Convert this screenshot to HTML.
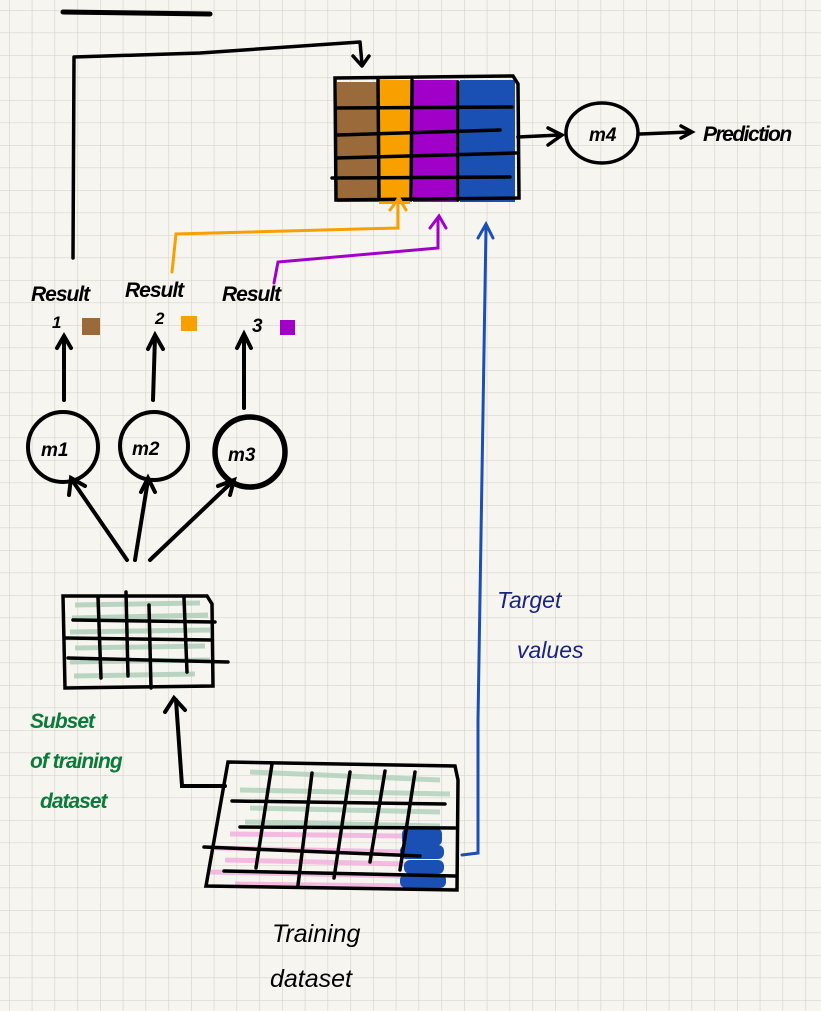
<!DOCTYPE html>
<html><head><meta charset="utf-8"><style>
html,body{margin:0;padding:0;background:#f7f5f0;}
svg{display:block}
text{font-family:"Liberation Sans",sans-serif;font-style:italic}
</style></head><body>
<svg width="821" height="1011" viewBox="0 0 821 1011" xmlns="http://www.w3.org/2000/svg">
<defs>
<pattern id="g" x="9" y="10" width="22.75" height="22.5" patternUnits="userSpaceOnUse">
<path d="M0 0H22.75M0 0V22.5" stroke="#d8d4cc" stroke-width="1.3" fill="none"/>
</pattern>
</defs>
<rect width="821" height="1011" fill="#f7f5f0"/>
<rect width="821" height="1011" fill="url(#g)"/>

<g fill="none" stroke="#000" stroke-linecap="round" stroke-linejoin="round">
<path d="M63 12 L210 14" stroke-width="5"/>
<path d="M73 258 L74 57 L200 53 L360 42 L362 64" stroke-width="3.5"/>
<path d="M353 56 L362 66 L369 56" stroke-width="3.5"/>
</g>

<!-- matrix -->
<g>
<rect x="337" y="82" width="42" height="120" fill="#9a6a3a"/>
<rect x="379" y="80" width="31" height="124" fill="#f7a000"/>
<rect x="413" y="80" width="45" height="122" fill="#a000c8"/>
<rect x="460" y="80" width="55" height="122" fill="#1a4fb4"/>
<g fill="none" stroke="#000" stroke-width="3.5" stroke-linecap="round">
<path d="M335 78 L513 76 L518 84 L519 198 L336 200 Z"/>
<path d="M336 108 L512 107"/>
<path d="M338 135 L500 130"/>
<path d="M336 158 L516 153"/>
<path d="M332 178 L510 177"/>
<path d="M378 80 L379 198"/>
<path d="M412 80 L411 200"/>
<path d="M458 82 L458 200"/>
</g>
</g>

<!-- m4 -->
<g fill="none" stroke="#000" stroke-width="3.5" stroke-linecap="round">
<path d="M518 137 L560 135"/><path d="M548 128 L562 135 L548 145"/>
<ellipse cx="602" cy="133" rx="36" ry="30"/>
<path d="M640 134 L690 132"/><path d="M681 126 L692 132 L681 138"/>
</g>
<text x="589" y="141" font-size="19" font-weight="bold">m4</text>
<text x="703" y="141" font-size="21" font-weight="bold" letter-spacing="-1.5">Prediction</text>

<g fill="none" stroke-width="3" stroke-linecap="round">
<path d="M172 272 L176 234 L398 228 L398 198" stroke="#f7a000"/>
<path d="M390 210 L399 198 L406 210" stroke="#f7a000"/>
<path d="M274 283 L278 262 L438 248 L438 218" stroke="#a000c8"/>
<path d="M430 228 L439 216 L446 228" stroke="#a000c8"/>
<path d="M462 855 L478 853 L478 720 L486 228" stroke="#1a4fb4"/>
<path d="M478 238 L486 224 L493 238" stroke="#1a4fb4"/>
</g>

<g font-size="21" font-weight="bold" fill="#000" letter-spacing="-1">
<text x="31" y="301">Result</text><text x="52" y="328" font-size="17">1</text>
<text x="125" y="297">Result</text><text x="155" y="324" font-size="17">2</text>
<text x="222" y="301">Result</text><text x="252" y="332" font-size="19">3</text>
</g>
<rect x="82" y="318" width="18" height="17" fill="#9a6a3a"/>
<rect x="181" y="316" width="16" height="15" fill="#f7a000"/>
<rect x="280" y="320" width="15" height="15" fill="#a000c8"/>

<g fill="none" stroke="#000" stroke-width="4" stroke-linecap="round">
<path d="M64 400 L64 338"/><path d="M57 348 L64 336 L71 348"/>
<path d="M153 400 L155 337"/><path d="M148 349 L155 335 L163 349"/>
<path d="M244 408 L244 336"/><path d="M237 348 L244 334 L251 348"/>
<circle cx="63" cy="447" r="35"/>
<circle cx="154" cy="446" r="34"/>
<circle cx="250" cy="452" r="35" stroke-width="5.5"/>
<path d="M127 560 L72 480"/><path d="M69 495 L71 478 L85 486"/>
<path d="M135 560 L148 480"/><path d="M141 492 L148 478 L155 492"/>
<path d="M150 560 L232 482"/><path d="M218 486 L234 480 L230 495"/>
</g>
<g font-size="19" font-weight="bold">
<text x="41" y="456">m1</text><text x="132" y="455">m2</text><text x="228" y="461">m3</text>
</g>

<g fill="none" stroke="#a9cdb5" stroke-width="5" opacity="0.8">
<path d="M75 605 L200 603 M72 618 L208 615 M70 632 L210 630 M75 648 L205 646 M70 662 L210 660 M74 676 L195 674"/>
</g>
<g fill="none" stroke="#000" stroke-width="3.5" stroke-linecap="round">
<path d="M63 596 L207 596 L212 604 L213 686 L65 688 Z"/>
<path d="M73 620 L215 622"/><path d="M65 638 L212 640"/><path d="M68 658 L228 662"/>
<path d="M98 597 L101 678"/><path d="M126 592 L128 676"/><path d="M149 605 L151 688"/><path d="M184 598 L187 672"/>
<path d="M225 786 L182 786 L176 700" stroke-width="4"/><path d="M165 712 L174 698 L185 710" stroke-width="4"/>
</g>
<g fill="#0b7a3a" font-size="21" font-weight="bold" letter-spacing="-1">
<text x="30" y="728">Subset</text>
<text x="30" y="768">of training</text>
<text x="40" y="808">dataset</text>
</g>

<g fill="none" stroke-width="5" opacity="0.75">
<path d="M250 772 L440 780 M240 790 L450 794 M250 808 L440 812 M245 822 L440 826" stroke="#a9cdb5"/>
<path d="M230 834 L405 836 M215 848 L405 852 M225 860 L405 864 M210 872 L405 876 M235 884 L405 886" stroke="#f2a8dc"/>
</g>
<g fill="#1a4fb4">
<rect x="402" y="828" width="40" height="18" rx="6"/>
<rect x="400" y="845" width="44" height="14" rx="6"/>
<rect x="404" y="860" width="40" height="14" rx="6"/>
<rect x="400" y="874" width="46" height="14" rx="6"/>
</g>
<g fill="none" stroke="#000" stroke-width="3.5" stroke-linecap="round">
<path d="M228 762 L455 766 L458 780 L457 890 L206 886 Z"/>
<path d="M232 801 L445 804"/><path d="M240 827 L455 828"/><path d="M204 847 L420 856"/><path d="M224 871 L455 876"/>
<path d="M272 764 L256 868"/><path d="M312 773 L298 885"/><path d="M350 772 L334 878"/><path d="M385 771 L370 862"/><path d="M415 772 L400 870"/>
</g>
<g font-size="25" fill="#000">
<text x="272" y="942">Training</text>
<text x="270" y="987">dataset</text>
</g>
<g font-size="23" fill="#1a237e">
<text x="497" y="608">Target</text>
<text x="517" y="658">values</text>
</g>
</svg>
</body></html>
